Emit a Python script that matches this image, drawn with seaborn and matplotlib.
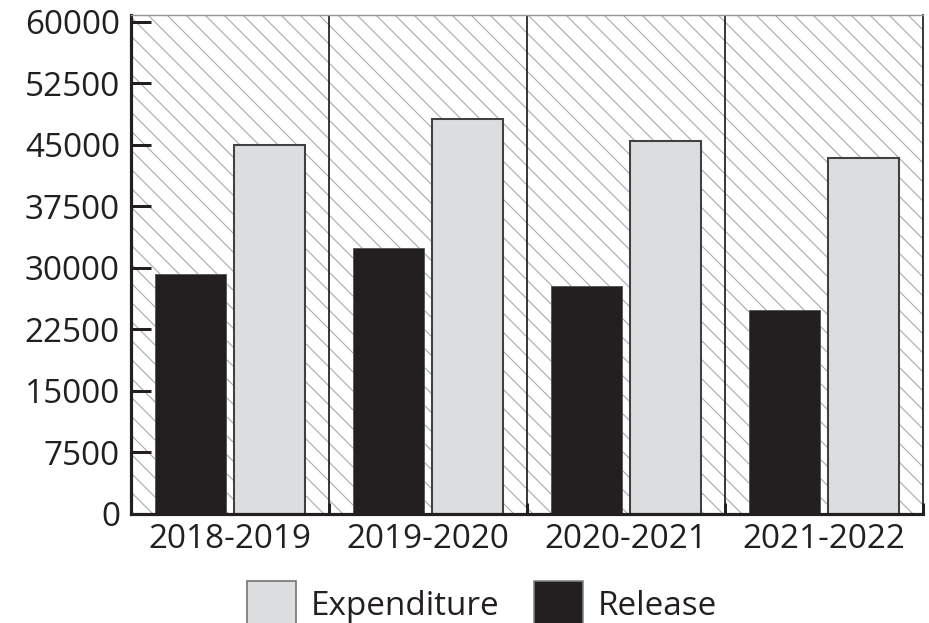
import matplotlib
matplotlib.use("Agg")
import matplotlib.pyplot as plt
import seaborn as sns
import pandas as pd
from matplotlib.patches import Rectangle, Patch

# ---- data ----
years = ["2018-2019", "2019-2020", "2020-2021", "2021-2022"]
release = [29300, 32400, 27800, 24900]
expenditure = [44900, 48100, 45500, 43400]
yticks = [0, 7500, 15000, 22500, 30000, 37500, 45000, 52500, 60000]

df = pd.DataFrame({
    "year": years * 2,
    "value": release + expenditure,
    "series": ["Release"] * len(years) + ["Expenditure"] * len(years),
})

DPI = 114
TXT = "#231f20"
sns.set_theme(style="white")
plt.rcParams["font.family"] = ["Open Sans", "DejaVu Sans"]
plt.rcParams["hatch.linewidth"] = 0.7

fig = plt.figure(figsize=(929 / DPI, 623 / DPI), dpi=DPI)
ax = fig.add_axes([131 / 929, 1 - 514 / 623, (923 - 131) / 929, (514 - 15) / 623])
ax.set_facecolor("white")

# hatched background
bg = Rectangle((0, 0), 1, 1, transform=ax.transAxes, facecolor="white",
               edgecolor="#a7a9ac", hatch="\\\\", linewidth=0, zorder=0)
ax.add_patch(bg)

colors = {"Release": "#231f20", "Expenditure": "#dcdddf"}
sns.barplot(data=df, x="year", y="value", hue="series",
            hue_order=["Release", "Expenditure"], order=years,
            palette=colors, width=0.8, gap=0.1, legend=False,
            saturation=1, ax=ax, zorder=2)

for bar_container, series in zip(ax.containers, ["Release", "Expenditure"]):
    for bar in bar_container:
        if series == "Expenditure":
            bar.set_edgecolor("#414042")
            bar.set_linewidth(1.3)
        else:
            bar.set_edgecolor("#58595b")
            bar.set_linewidth(0.6)

# group separators
for xb in [0.5, 1.5, 2.5]:
    ax.axvline(xb, color=TXT, lw=1.1, zorder=1)

ax.set_xlim(-0.5, 3.5)
ax.set_ylim(0, 60800)
ax.set_yticks(yticks)
ax.set_yticklabels([str(v) for v in yticks])
ax.set_xlabel("")
ax.set_ylabel("")

ax.tick_params(axis="y", direction="in", length=12.5, width=1.9, color=TXT,
               labelsize=21, labelcolor=TXT, pad=7, left=True)
ax.tick_params(axis="x", which="major", length=0, labelsize=21,
               labelcolor=TXT, pad=6)
ax.set_xticks([0.5, 1.5, 2.5, 3.5], minor=True)
ax.tick_params(axis="x", which="minor", direction="in", length=7, width=1.9,
               color=TXT, bottom=True)

for side in ["left", "bottom"]:
    ax.spines[side].set_color(TXT)
    ax.spines[side].set_linewidth(2.0)
ax.spines["top"].set_color("#939598")
ax.spines["top"].set_linewidth(0.9)
ax.spines["right"].set_color(TXT)
ax.spines["right"].set_linewidth(1.1)
for s in ax.spines.values():
    s.set_visible(True)
    s.set_zorder(3)

handles = [
    Patch(facecolor=colors["Expenditure"], edgecolor="#6d6e71", linewidth=1.0, label="Expenditure"),
    Patch(facecolor=colors["Release"], edgecolor="#808285", linewidth=1.0, label="Release"),
]
leg = fig.legend(handles=handles, loc="center", bbox_to_anchor=(0.519, 0.030),
                 ncol=2, frameon=False, fontsize=21, handlelength=1.46,
                 handleheight=1.75, handletextpad=0.45, columnspacing=1.05)
for t in leg.get_texts():
    t.set_color(TXT)

fig.savefig("out.png", dpi=DPI)
